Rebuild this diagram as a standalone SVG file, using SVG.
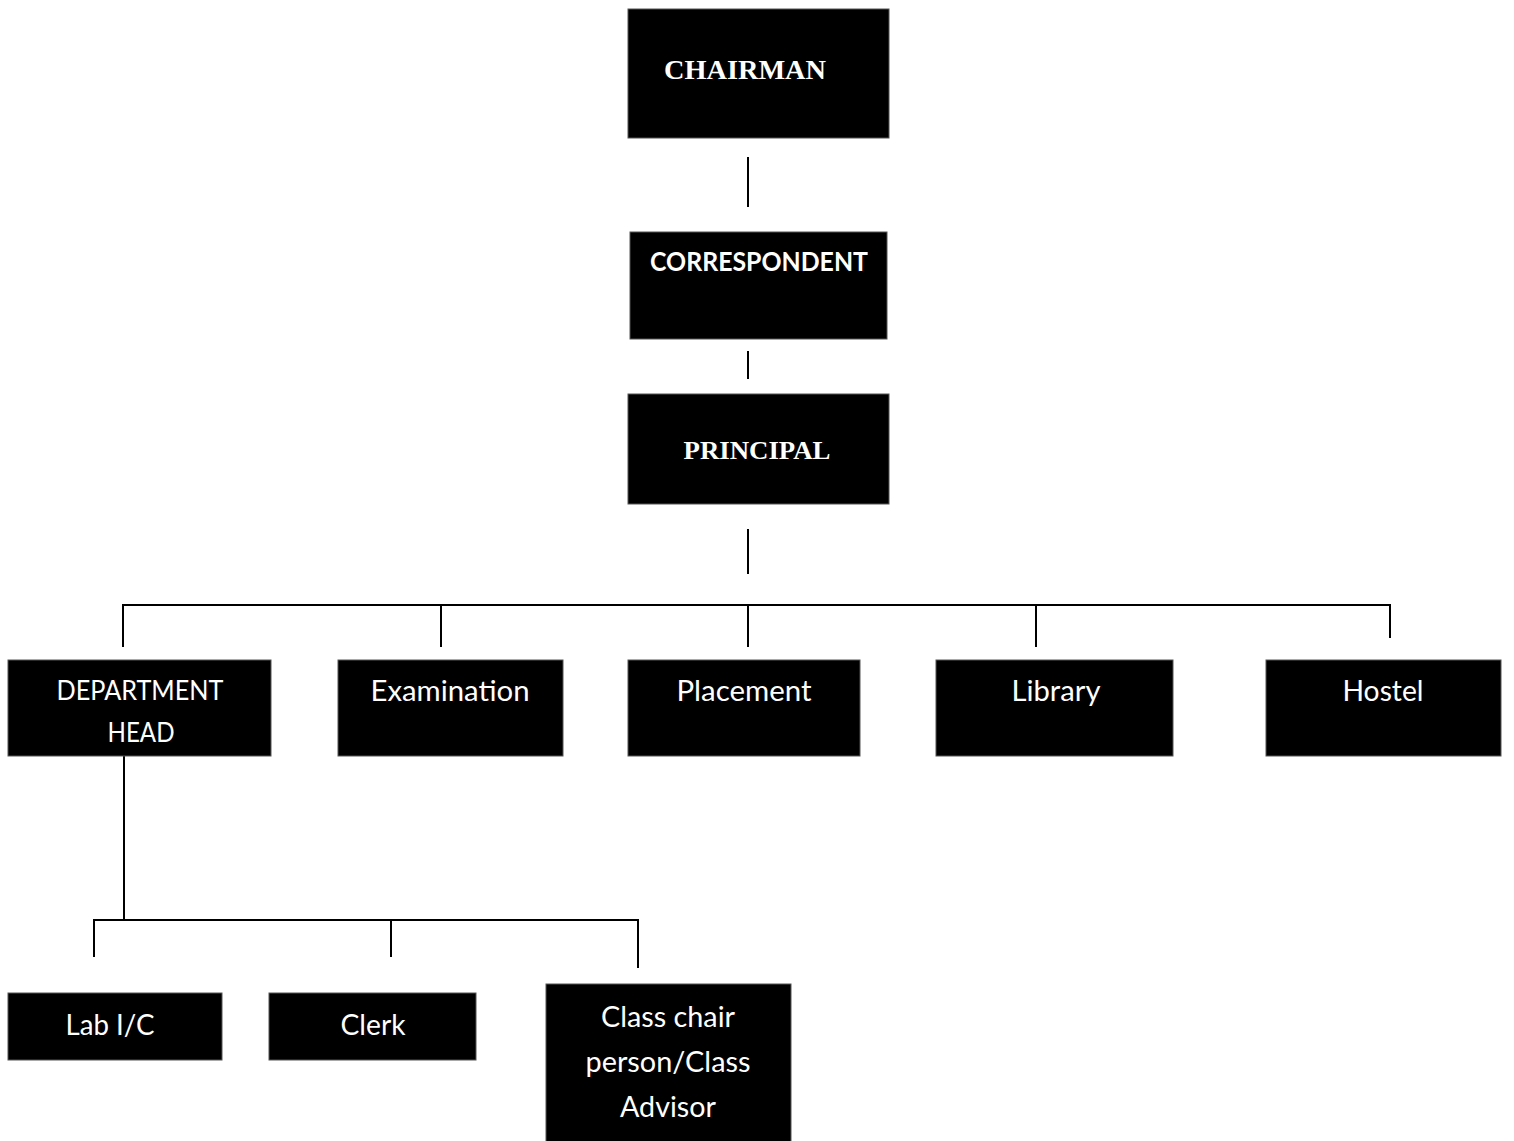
<svg xmlns="http://www.w3.org/2000/svg" width="1514" height="1141" viewBox="0 0 1514 1141">
<style>
.box{fill:#000;stroke:#555;stroke-width:1}
.serif{font-family:"Liberation Serif","DejaVu Serif",serif;font-weight:bold;fill:#fff;text-anchor:middle}
.sans{font-family:Lato,"Open Sans","Liberation Sans",sans-serif;font-size:28px;fill:#fff;text-anchor:middle}
.caps{font-size:26px}
.bold{font-weight:bold}
.ln{stroke:#000;stroke-width:2;fill:none}
</style>
<rect width="1514" height="1141" fill="#fff"/>
<g id="connectors">
<line class="ln" x1="748" y1="157" x2="748" y2="207"/>
<line class="ln" x1="748" y1="351" x2="748" y2="379"/>
<line class="ln" x1="748" y1="529" x2="748" y2="574"/>
<polyline class="ln" points="123,647 123,605 1390,605 1390,638"/>
<line class="ln" x1="441" y1="605" x2="441" y2="647"/>
<line class="ln" x1="748" y1="605" x2="748" y2="647"/>
<line class="ln" x1="1036" y1="605" x2="1036" y2="647"/>
<line class="ln" x1="124" y1="756" x2="124" y2="920"/>
<polyline class="ln" points="94,957 94,920 638,920 638,968"/>
<line class="ln" x1="391" y1="920" x2="391" y2="957"/>
</g>
<g id="chairman"><rect class="box" x="628" y="9" width="261" height="129"/><text class="serif" x="745" y="79" font-size="28" textLength="162" lengthAdjust="spacingAndGlyphs">CHAIRMAN</text></g>
<g id="correspondent"><rect class="box" x="630" y="232" width="257" height="107"/><text class="sans caps bold" x="759" y="271" textLength="218" lengthAdjust="spacingAndGlyphs">CORRESPONDENT</text></g>
<g id="principal"><rect class="box" x="628" y="394" width="261" height="110"/><text class="serif" x="757" y="459" font-size="26" textLength="147" lengthAdjust="spacingAndGlyphs">PRINCIPAL</text></g>
<g id="department-head"><rect class="box" x="8" y="660" width="263" height="96"/><text class="sans caps" x="140" y="700" textLength="167" lengthAdjust="spacingAndGlyphs">DEPARTMENT</text><text class="sans caps" x="141" y="742" textLength="67" lengthAdjust="spacingAndGlyphs">HEAD</text></g>
<g id="examination"><rect class="box" x="338" y="660" width="225" height="96"/><text class="sans" x="450" y="701" textLength="159" lengthAdjust="spacingAndGlyphs">Examination</text></g>
<g id="placement"><rect class="box" x="628" y="660" width="232" height="96"/><text class="sans" x="744" y="701" textLength="135" lengthAdjust="spacingAndGlyphs">Placement</text></g>
<g id="library"><rect class="box" x="936" y="660" width="237" height="96"/><text class="sans" x="1056" y="701" textLength="89" lengthAdjust="spacingAndGlyphs">Library</text></g>
<g id="hostel"><rect class="box" x="1266" y="660" width="235" height="96"/><text class="sans" x="1383" y="701" textLength="81" lengthAdjust="spacingAndGlyphs">Hostel</text></g>
<g id="lab-ic"><rect class="box" x="8" y="993" width="214" height="67"/><text class="sans" x="110" y="1035" textLength="89" lengthAdjust="spacingAndGlyphs">Lab I/C</text></g>
<g id="clerk"><rect class="box" x="269" y="993" width="207" height="67"/><text class="sans" x="373" y="1035" textLength="65" lengthAdjust="spacingAndGlyphs">Clerk</text></g>
<g id="class-chair"><rect class="box" x="546" y="984" width="245" height="160"/><text class="sans" x="668" y="1027" textLength="134" lengthAdjust="spacingAndGlyphs">Class chair</text><text class="sans" x="668" y="1072" textLength="165" lengthAdjust="spacingAndGlyphs">person/Class</text><text class="sans" x="668" y="1117" textLength="96" lengthAdjust="spacingAndGlyphs">Advisor</text></g>
</svg>
